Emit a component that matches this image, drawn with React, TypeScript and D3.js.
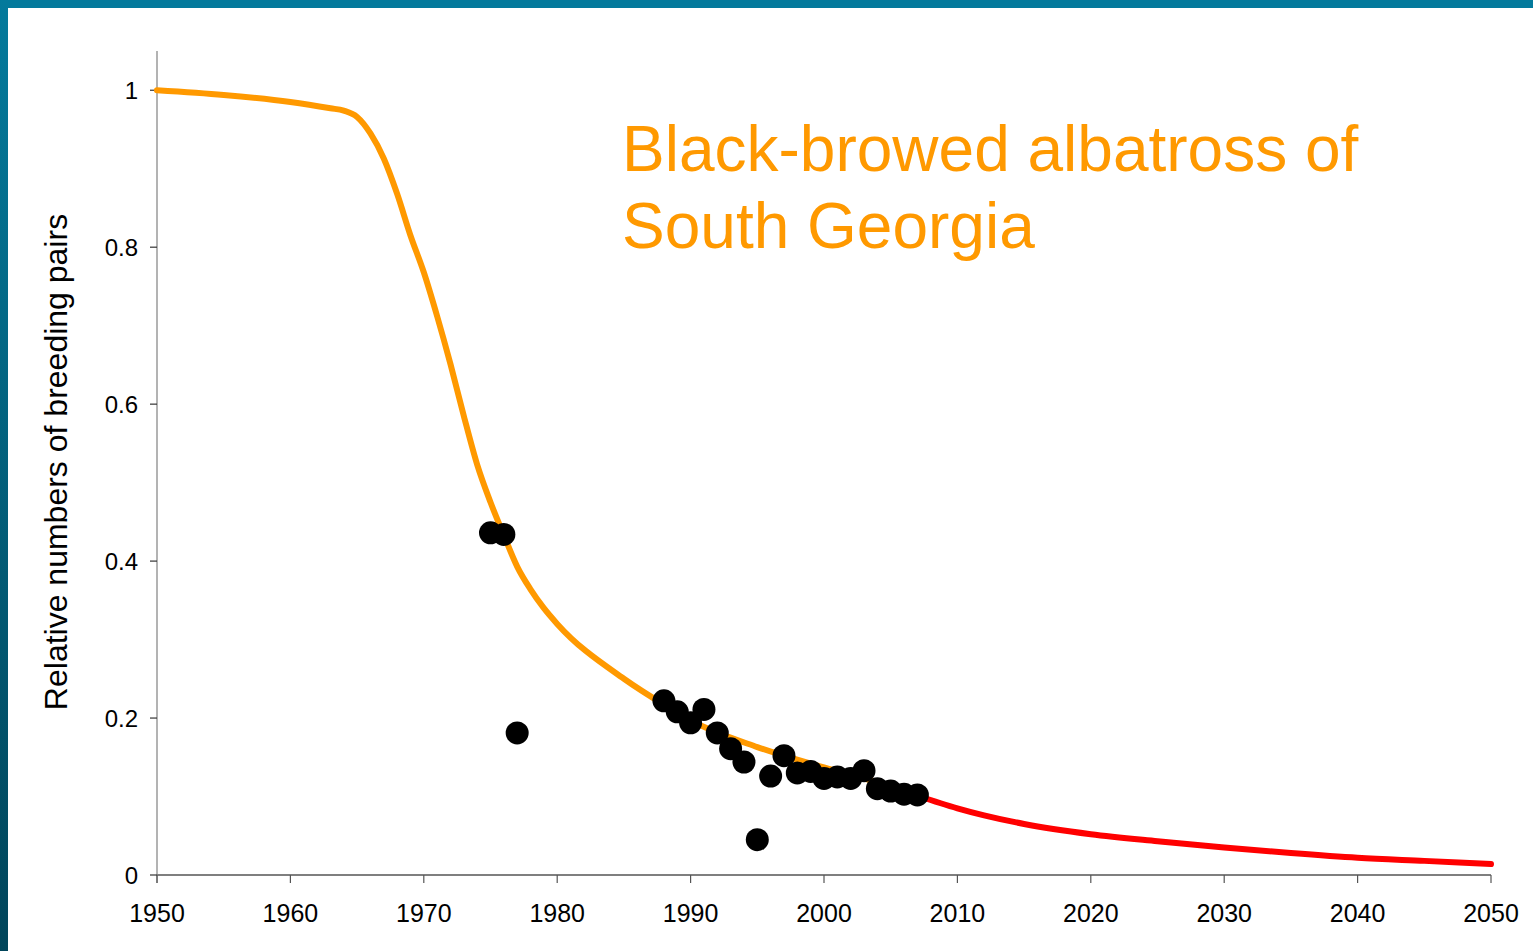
import { useEffect, useRef } from 'react'
import * as d3 from 'd3'

// fitted model trajectory, observed part (orange)
const MODEL_YEARS = [1950, 1955, 1960, 1963, 1964, 1965, 1966, 1967, 1968, 1969, 1970, 1971, 1972, 1973, 1974, 1975, 1976, 1977, 1978, 1979, 1980, 1985, 1988, 1990, 1995, 2000, 2005, 2007]
const MODEL_VALUES = [1.0, 0.994, 0.985, 0.977, 0.974, 0.966, 0.945, 0.913, 0.868, 0.815, 0.768, 0.712, 0.651, 0.585, 0.523, 0.475, 0.433, 0.393, 0.364, 0.34, 0.32, 0.25, 0.217, 0.197, 0.163, 0.137, 0.113, 0.101]

// projection (red)
const PROJ_YEARS = [2007, 2010, 2012, 2015, 2020, 2025, 2030, 2035, 2040, 2045, 2050]
const PROJ_VALUES = [0.101, 0.085, 0.076, 0.065, 0.052, 0.043, 0.035, 0.028, 0.022, 0.018, 0.014]

// census counts
const OBS_YEARS = [1975, 1976, 1977, 1988, 1989, 1990, 1991, 1992, 1993, 1994, 1995, 1996, 1997, 1998, 1999, 2000, 2001, 2002, 2003, 2004, 2005, 2006, 2007]
const OBS_VALUES = [0.436, 0.434, 0.181, 0.222, 0.208, 0.194, 0.211, 0.181, 0.161, 0.144, 0.045, 0.126, 0.152, 0.13, 0.132, 0.123, 0.125, 0.123, 0.133, 0.11, 0.107, 0.103, 0.102]

const X_TICKS = [1950, 1960, 1970, 1980, 1990, 2000, 2010, 2020, 2030, 2040, 2050]
const Y_TICKS = [0, 0.2, 0.4, 0.6, 0.8, 1]

const TITLE_LINES = ['Black-browed albatross of', 'South Georgia']
const Y_LABEL = 'Relative numbers of breeding pairs'

export default function App() {
  const svgRef = useRef<SVGSVGElement>(null)

  useEffect(() => {
    if (!svgRef.current) return
    const W = 1533
    const H = 951
    const svg = d3.select(svgRef.current)
    svg.selectAll('*').remove()
    const defs = svg.append('defs')
    const font = '"Liberation Sans", Arial, sans-serif'

    // frame gradient on left edge
    const lg = defs.append('linearGradient').attr('id', 'left-band').attr('x1', '0').attr('x2', '0').attr('y1', '0').attr('y2', '1')
    lg.append('stop').attr('offset', '0%').attr('stop-color', '#047a9c')
    lg.append('stop').attr('offset', '100%').attr('stop-color', '#01455a')

    svg.append('rect').attr('width', W).attr('height', H).attr('fill', '#ffffff')
    svg.append('rect').attr('x', 0).attr('y', 0).attr('width', W).attr('height', 8).attr('fill', '#047a9c')
    svg.append('rect').attr('x', 0).attr('y', 0).attr('width', 8).attr('height', H).attr('fill', 'url(#left-band)')

    const x = d3.scaleLinear().domain([1950, 2050]).range([157, 1491])
    const y = d3.scaleLinear().domain([0, 1.05]).range([875, 51])

    // Axes
    svg.append('line').attr('x1', x(1950)).attr('x2', x(2050)).attr('y1', y(0)).attr('y2', y(0))
      .attr('stroke', '#000').attr('stroke-width', 1.2)
    svg.append('line').attr('x1', x(1950)).attr('x2', x(1950)).attr('y1', y(1.05)).attr('y2', y(0) + 8)
      .attr('stroke', '#808080').attr('stroke-width', 1.2)

    X_TICKS.forEach((t) => {
      svg.append('line').attr('x1', x(t)).attr('x2', x(t)).attr('y1', y(0)).attr('y2', y(0) + 8)
        .attr('stroke', '#555').attr('stroke-width', 1.2)
      svg.append('text').attr('x', x(t)).attr('y', y(0) + 47)
        .attr('text-anchor', 'middle').attr('font-family', font).attr('font-size', 25).attr('fill', '#000')
        .text(String(t))
    })
    Y_TICKS.forEach((t) => {
      svg.append('line').attr('x1', x(1950) - 7).attr('x2', x(1950)).attr('y1', y(t)).attr('y2', y(t))
        .attr('stroke', '#333').attr('stroke-width', 1.2)
      svg.append('text').attr('x', 138).attr('y', y(t) + 9)
        .attr('text-anchor', 'end').attr('font-family', font).attr('font-size', 24).attr('fill', '#000')
        .text(d3.format('~g')(t))
    })

    svg.append('text').attr('transform', `translate(67,462) rotate(-90)`)
      .attr('text-anchor', 'middle').attr('font-family', font).attr('font-size', 32).attr('fill', '#000')
      .text(Y_LABEL)

    const modelPts = MODEL_YEARS.map((yr, i) => [x(yr), y(MODEL_VALUES[i])] as [number, number])
    const projPts = PROJ_YEARS.map((yr, i) => [x(yr), y(PROJ_VALUES[i])] as [number, number])
    const lineGen = d3.line<[number, number]>().x((d) => d[0]).y((d) => d[1]).curve(d3.curveMonotoneX)

    svg.append('path').datum(projPts).attr('fill', 'none').attr('stroke', '#ff0000')
      .attr('stroke-width', 6).attr('stroke-linecap', 'round').attr('d', lineGen)
    svg.append('path').datum(modelPts).attr('fill', 'none').attr('stroke', '#ff9900')
      .attr('stroke-width', 6).attr('stroke-linecap', 'round').attr('d', lineGen)

    OBS_YEARS.forEach((yr, i) => {
      svg.append('circle').attr('cx', x(yr)).attr('cy', y(OBS_VALUES[i])).attr('r', 11.5).attr('fill', '#000')
    })

    TITLE_LINES.forEach((s, i) => {
      svg.append('text').attr('x', 622).attr('y', 171 + i * 77)
        .attr('font-family', font).attr('font-size', 64).attr('fill', '#ff9900')
        .text(s)
    })

    return () => { svg.selectAll('*').remove() }
  }, [])

  return (
    <svg ref={svgRef} width={1533} height={951}
      style={{ position: 'fixed', left: 0, top: 0, display: 'block' }} />
  )
}
